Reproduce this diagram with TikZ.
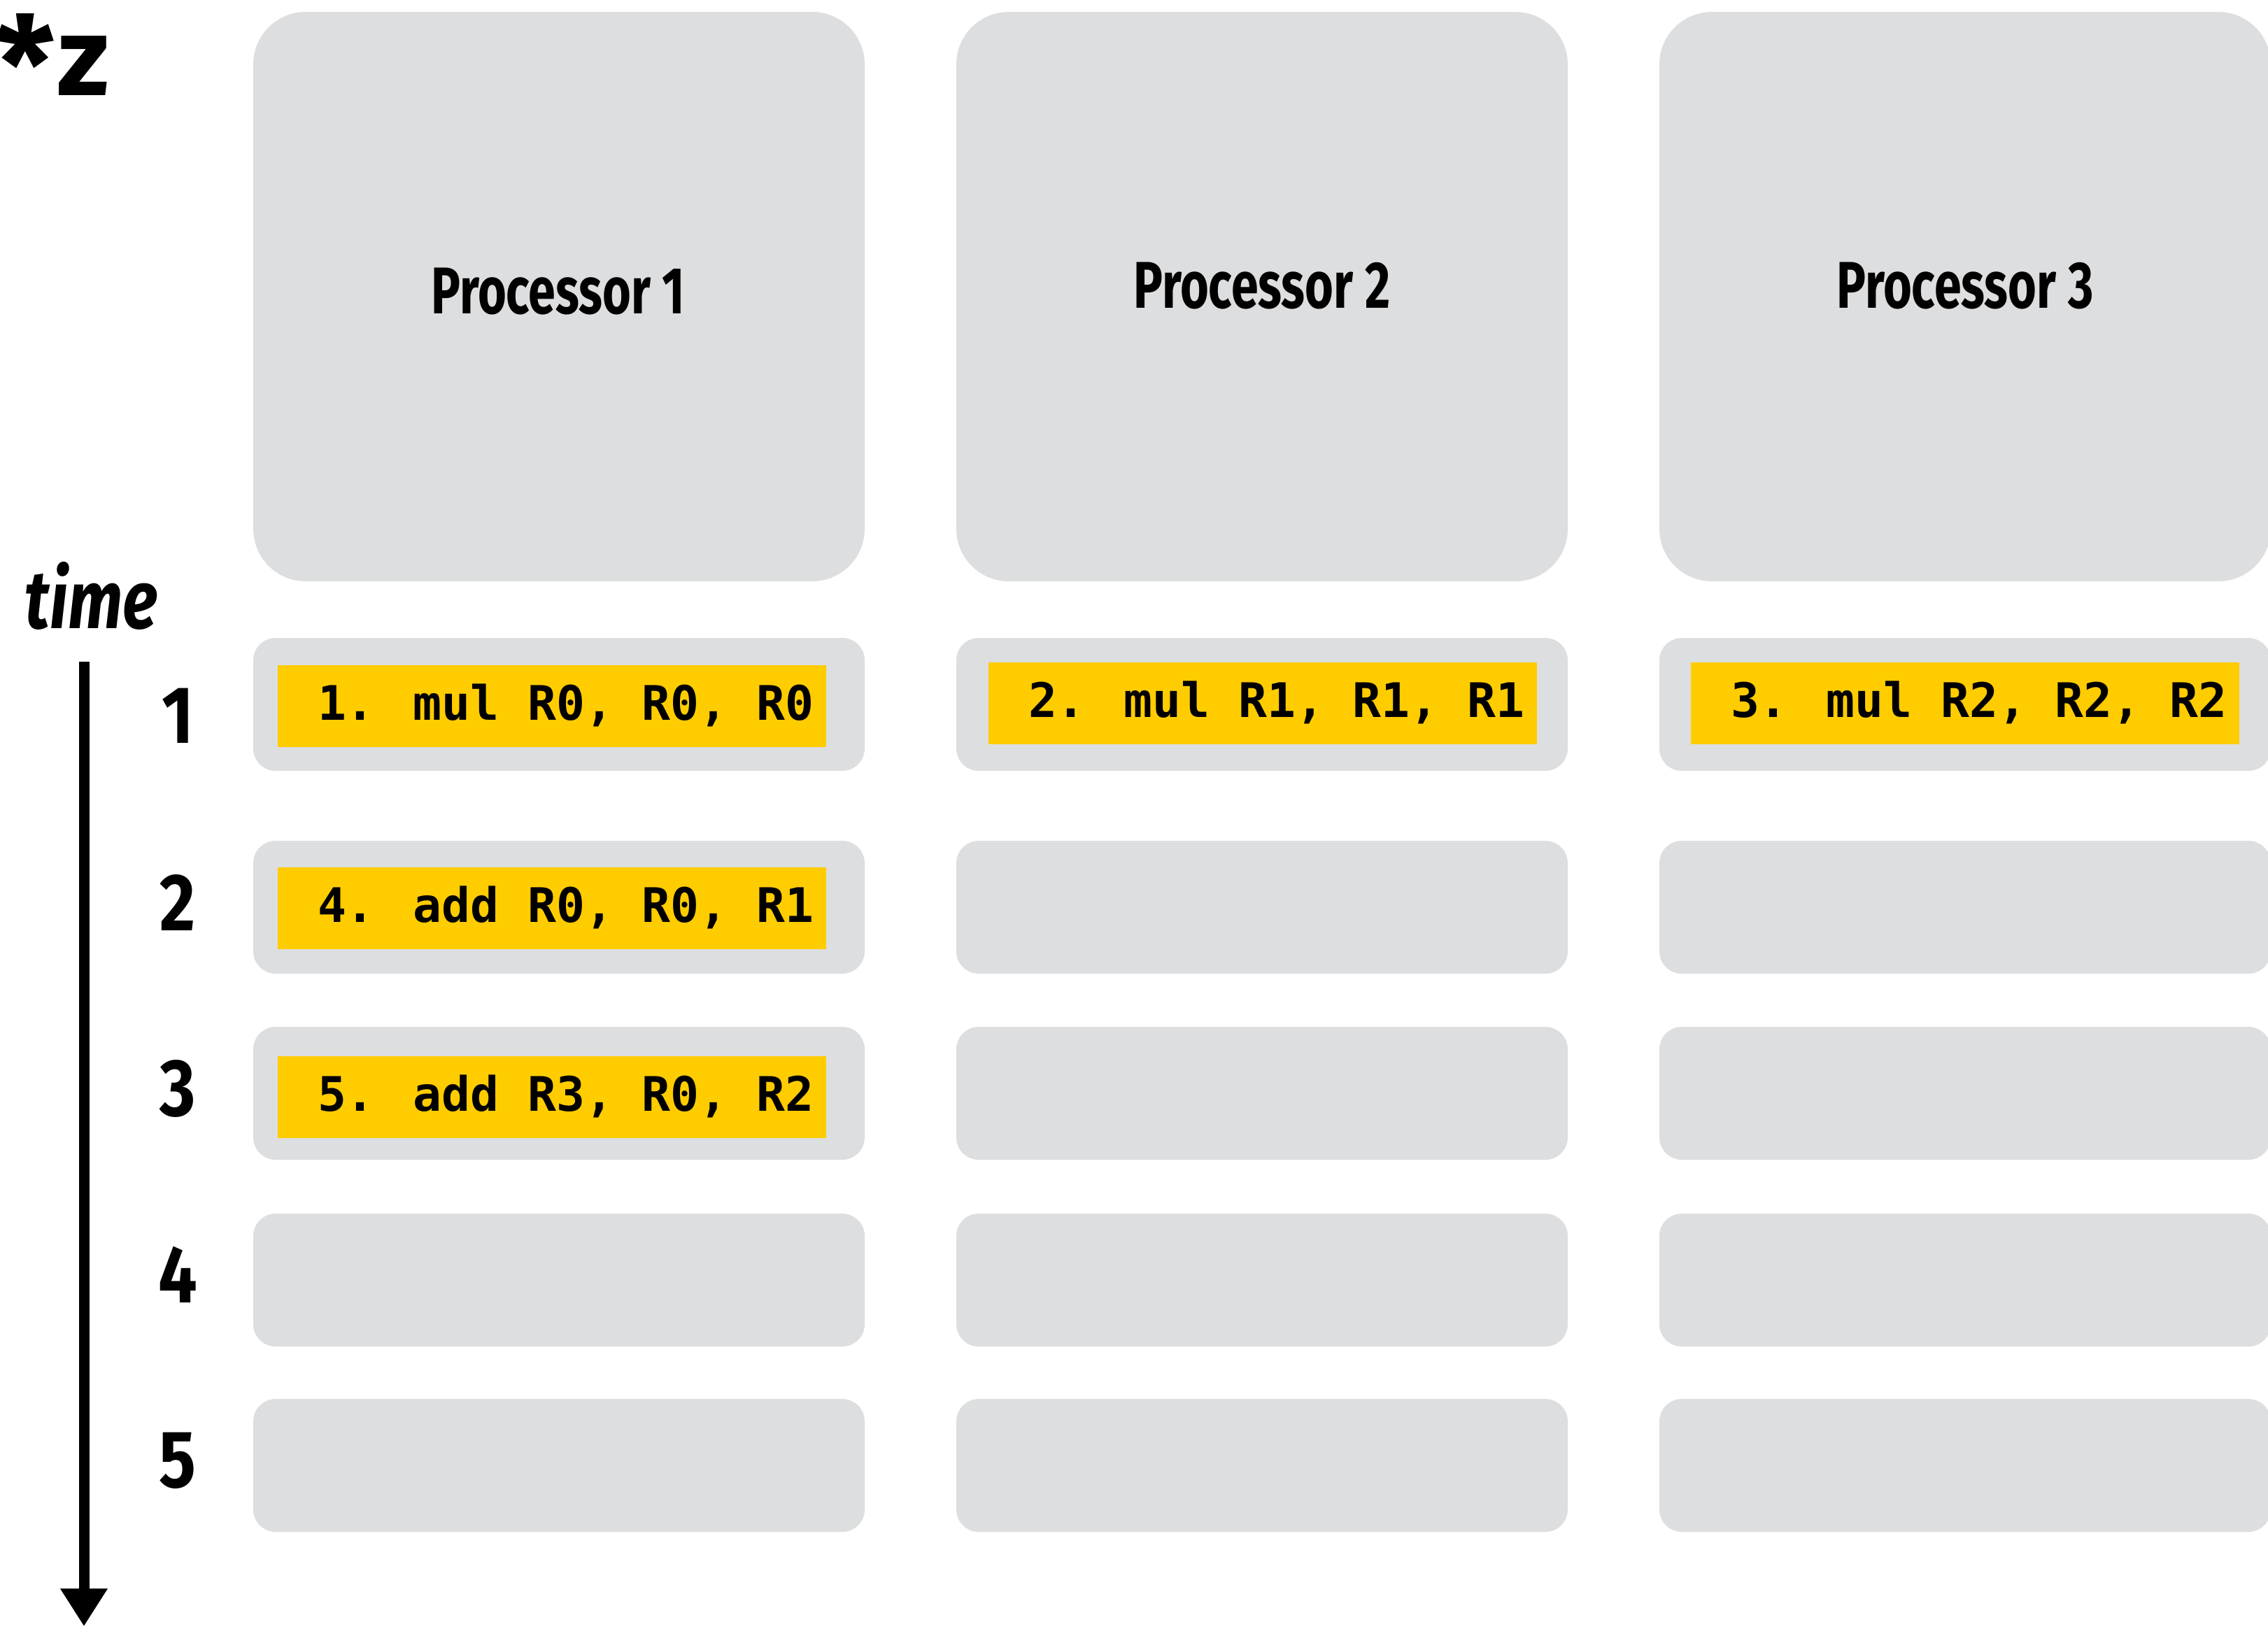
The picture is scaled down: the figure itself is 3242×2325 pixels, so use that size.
\documentclass[tikz,border=0pt]{standalone}
\usepackage{fontspec}
\setmainfont{Fira Sans}
\newfontfamily\headfont[FakeStretch=0.74]{Fira Sans}
\newfontfamily\numfont[FakeStretch=0.85]{Fira Sans}
\newfontfamily\timefont[FakeStretch=0.8]{Fira Sans}
\newfontfamily\codefont{DejaVu Sans Mono}
\usetikzlibrary{arrows.meta}
\definecolor{panelgray}{RGB}{221,222,224}
\definecolor{instyellow}{RGB}{255,204,0}

\tikzset{
  procbox/.style={fill=panelgray, draw=none, rounded corners=15pt,
    minimum width=174.8pt, minimum height=162.8pt, inner sep=0},
  slotbox/.style={fill=panelgray, draw=none, rounded corners=6.4pt,
    minimum width=174.8pt, minimum height=38pt, inner sep=0},
  instbox/.style={fill=instyellow, draw=none,
    minimum width=156.8pt, minimum height=23.4pt, inner sep=0},
  codetext/.style={font=\codefont\bfseries\fontsize{13.6}{16}\selectfont,
    inner sep=0, anchor=base west, xshift=11.4pt, yshift=-4.0pt},
  proclabel/.style={font=\headfont\bfseries\fontsize{18.9}{22}\selectfont,
    inner sep=0, anchor=base},
  rowlabel/.style={font=\numfont\bfseries\fontsize{23.2}{26}\selectfont,
    inner sep=0},
}

\begin{document}
\begin{tikzpicture}[x=0.2pt, y=-0.2pt]
  \useasboundingbox (0,0) rectangle (3242,2325);

  % processor panels
  \node[procbox] (p1) at (799,424) {};
  \node[procbox] (p2) at (1804,424) {};
  \node[procbox] (p3) at (2809,424) {};
  \node[proclabel] (p1lab) at (798,448) {Processor 1};
  \node[proclabel] (p2lab) at (1804,440) {Processor 2};
  \node[proclabel] (p3lab) at (2809,440) {Processor 3};

  % time slots, one row per step
  \foreach \r/\yy in {1/1007, 2/1297, 3/1563, 4/1830, 5/2095} {
    \node[slotbox] (s1-\r) at (799,\yy) {};
    \node[slotbox] (s2-\r) at (1804,\yy) {};
    \node[slotbox] (s3-\r) at (2809,\yy) {};
  }

  % scheduled instructions
  \node[instbox] (i1) at (789,1009.5) {};
  \node[instbox] (i2) at (1805,1005.5) {};
  \node[instbox] (i3) at (2809,1005.5) {};
  \node[instbox] (i4) at (789,1298.5) {};
  \node[instbox] (i5) at (789,1568.5) {};
  \node[codetext] (c1) at (i1.west) {1. mul R0, R0, R0};
  \node[codetext] (c2) at (i2.west) {2. mul R1, R1, R1};
  \node[codetext] (c3) at (i3.west) {3. mul R2, R2, R2};
  \node[codetext] (c4) at (i4.west) {4. add R0, R0, R1};
  \node[codetext] (c5) at (i5.west) {5. add R3, R0, R2};

  % step numbers
  \node[rowlabel] (n1) at (254,1023) {1};
  \node[rowlabel] (n2) at (254,1290) {2};
  \node[rowlabel] (n3) at (254,1556) {3};
  \node[rowlabel] (n4) at (254,1822) {4};
  \node[rowlabel] (n5) at (254,2088) {5};

  % title and time axis
  \node[font=\bfseries\fontsize{32}{36}\selectfont, inner sep=0, anchor=base east]
    (title) at (157,136)
    {\raisebox{-4.8pt}{\fontsize{38}{38}\selectfont *}\kern0.8pt z};
  \node[font=\timefont\bfseries\itshape\fontsize{23.5}{26}\selectfont, inner sep=0,
    anchor=base west] (timelab) at (35,898) {time};
  \coordinate (tstart) at (120,946);
  \coordinate (tend) at (120,2325);
  \draw[line width=3pt, -{Triangle[width=12.8pt,length=10.8pt]}] (tstart) -- (tend);
\end{tikzpicture}
\end{document}
